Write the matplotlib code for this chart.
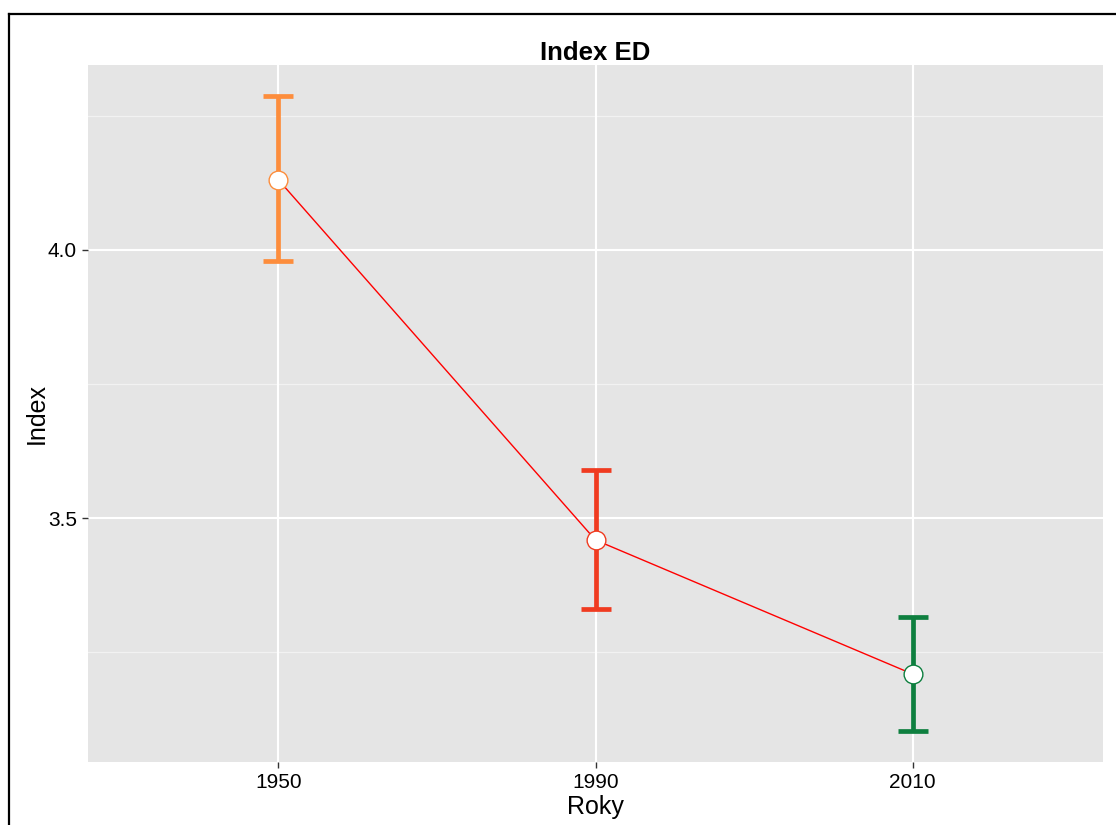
import matplotlib
matplotlib.use("Agg")
import matplotlib.pyplot as plt
from matplotlib.lines import Line2D

# dados
anos = ['1950', '1990', '2010']
medias = [4.131, 3.459, 3.209]
limite_sup = [4.287, 3.590, 3.315]
limite_inf = [3.979, 3.330, 3.103]
cores = ['#FD8D3C', '#F03B20', '#0E7F3F']

plt.rcParams['font.family'] = ['Liberation Sans', 'DejaVu Sans']

fig = plt.figure(figsize=(11.16, 8.25), dpi=100)
ax = fig.add_axes([88 / 1116, 63 / 825, 1015 / 1116, 697 / 825])
ax.set_facecolor('#E5E5E5')

x = list(range(len(anos)))

# linhas de grade estilo ggplot
for v in [3.25, 3.75, 4.25]:
    ax.axhline(v, color='#F2F2F2', lw=0.9, zorder=0)
for v in [3.5, 4.0]:
    ax.axhline(v, color='white', lw=1.5, zorder=0)
for xi in x:
    ax.axvline(xi, color='white', lw=1.5, zorder=0)

ax.plot(x, medias, color='red', lw=1, zorder=2)

for i in x:
    ax.errorbar(i, medias[i],
                yerr=[[medias[i] - limite_inf[i]], [limite_sup[i] - medias[i]]],
                fmt='none', ecolor=cores[i], elinewidth=3.4, capsize=11,
                capthick=3.4, zorder=1)
    ax.plot(i, medias[i], 'o', ms=13.5, mfc='white', mec=cores[i], mew=1, zorder=3)

ax.set_xlim(-0.6, 2.6)
ax.set_ylim(3.045, 4.345)
ax.set_xticks(x)
ax.set_xticklabels(anos)
ax.set_yticks([3.5, 4.0])
ax.set_yticklabels(['3.5', '4.0'])
ax.tick_params(axis='both', length=4, width=1, color='#333333',
               labelsize=15, labelcolor='black', pad=4)
for s in ax.spines.values():
    s.set_visible(False)

ax.set_xlabel('Roky', fontsize=18, labelpad=2)
ax.set_ylabel('Index', fontsize=18, labelpad=-1)
ax.set_title('Index ED', fontsize=18.5, fontweight='bold', pad=3)

# moldura externa
fig.add_artist(Line2D([9 / 1116, 9 / 1116], [0, 1 - 14 / 825], color='black', lw=1.6))
fig.add_artist(Line2D([9 / 1116, 1], [1 - 14 / 825, 1 - 14 / 825], color='black', lw=1.6))

fig.savefig('out.png', dpi=100)
